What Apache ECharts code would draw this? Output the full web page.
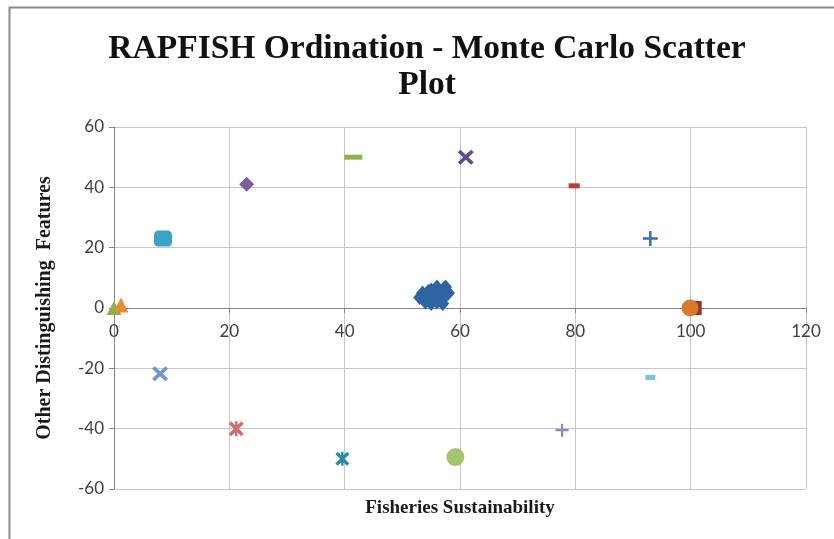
<!DOCTYPE html>
<html>
<head>
<meta charset="utf-8">
<script src="https://cdn.jsdelivr.net/npm/echarts@6/dist/echarts.min.js"></script>
<style>
  html, body { margin: 0; padding: 0; background: #fff; }
  #main { width: 834px; height: 539px; }
</style>
</head>
<body>
<div id="main"></div>
<script>
// points, [x, y]
var clusterPts = [[54,4],[55,3],[56,5],[57,6],[55,6],[54,2],[56,2],[57,3],[58,5],[57.5,7],
                  [55.5,4],[53.5,5],[56.5,4],[55,1.5],[54.5,5.5],[56,7],[53,3.5],[57,1.5]];
var purpleDiamond = [[23, 41]];
var greenDash = [[41.5, 50]];
var purpleX = [[61, 50]];
var redDash = [[79.8, 40.5]];
var bluePlus = [[93, 23]];
var tealSquare = [[8.5, 23]];
var greenTri = [[0, 0]];
var orangeTri = [[1.2, 1]];
var redSquare = [[100.7, 0]];
var orangeCircle = [[99.9, 0]];
var lightBlueDash = [[93, -23]];
var blueX = [[8, -21.8]];
var redStar = [[21.2, -40]];
var tealStar = [[39.6, -50]];
var greenCircle = [[59.2, -49.4]];
var purplePlus = [[77.7, -40.5]];

var xTicks = [0, 20, 40, 60, 80, 100, 120];
var yTicks = [-60, -40, -20, 0, 20, 40, 60];

var X_PATH = 'path://M2,0 L6,4 L10,0 L12,2 L8,6 L12,10 L10,12 L6,8 L2,12 L0,10 L4,6 L0,2 Z';
var PLUS_PATH = 'path://M5,0 H7 V5 H12 V7 H7 V12 H5 V7 H0 V5 H5 Z';
var STAR_PATH = 'path://M2,0 L6,4 L10,0 L12,2 L8,6 L12,10 L10,12 L6,8 L2,12 L0,10 L4,6 L0,2 Z M5,0 H7 V12 H5 Z';

function s(data, symbol, size, color) {
    return { type: 'scatter', data: data, symbol: symbol, symbolSize: size,
             itemStyle: { color: color, opacity: 1 }, z: 3 };
}

var labelStyle = { fontFamily: 'Lato', fontSize: 17, color: '#404040' };

var chart = echarts.init(document.getElementById('main'));
var option = {
    animation: false,
    backgroundColor: '#fff',
    graphic: [{
        type: 'rect',
        shape: { x: 9.5, y: 7.5, width: 900, height: 600 },
        style: { fill: 'none', stroke: '#8a8a8a', lineWidth: 2 }
    }, {
        // title, centred a little right of the canvas centre like the original
        type: 'text',
        x: 427, y: 31,
        style: {
            text: 'RAPFISH Ordination - Monte Carlo Scatter\nPlot',
            align: 'center',
            font: 'bold 33.5px "Liberation Serif"',
            lineHeight: 36,
            fill: '#111'
        }
    }],
    grid: { left: 114, right: 28, top: 127, bottom: 50, outerBoundsMode: 'none', containLabel: false },
    xAxis: [{
        type: 'value', min: 0, max: 120, interval: 20,
        name: 'Fisheries Sustainability',
        nameLocation: 'middle', nameGap: 10,
        nameTextStyle: { fontFamily: 'Liberation Serif', fontWeight: 'bold', fontSize: 19, color: '#1a1a1a' },
        axisLine: { onZero: true, lineStyle: { color: '#868686' } },
        axisTick: { show: false },
        axisLabel: { show: false },
        splitLine: { lineStyle: { color: '#c4c6d2', width: 1 } }
    }, {
        // tick labels sit on the y = 0 line, as in the reference
        type: 'value', min: 0, max: 120, interval: 20,
        position: 'bottom', offset: -181,
        axisLine: { show: false, onZero: false },
        axisTick: { show: true, length: 5, lineStyle: { color: '#868686' } },
        axisLabel: Object.assign({ margin: 15,
                     formatter: function (v) { return xTicks.indexOf(v) >= 0 ? String(v) : ''; } }, labelStyle),
        splitLine: { show: false }
    }],
    yAxis: {
        type: 'value', min: -60, max: 60, interval: 20,
        name: 'Other Distinguishing  Features',
        nameLocation: 'middle', nameGap: 59,
        nameTextStyle: { fontFamily: 'Liberation Serif', fontWeight: 'bold', fontSize: 20, color: '#1a1a1a' },
        axisLine: { onZero: true, lineStyle: { color: '#868686' } },
        axisTick: { show: true, length: 5, lineStyle: { color: '#868686' } },
        axisLabel: Object.assign({ margin: 10,
                     formatter: function (v) { return yTicks.indexOf(v) >= 0 ? String(v) : ''; } }, labelStyle),
        splitLine: { lineStyle: { color: '#c4c6d2', width: 1 } }
    },
    series: [
        s(clusterPts, 'diamond', [13, 15], '#2f64a3'),
        s(purpleDiamond, 'diamond', [15, 15], '#7a5fa0'),
        s(greenDash, 'rect', [18, 5], '#8db446'),
        s(purpleX, X_PATH, [16, 15], '#5f4a8b'),
        s(redDash, 'rect', [11, 5], '#c0392f'),
        s(bluePlus, PLUS_PATH, [15, 15], '#3a6eb5'),
        s(tealSquare, 'roundRect', [18, 16], '#3aa3c2'),
        s(greenTri, 'triangle', [15, 14], '#89b34a'),
        s(orangeTri, 'triangle', [15, 15], '#ec8a33'),
        s(redSquare, 'rect', [14, 14], '#a32f2c'),
        s(orangeCircle, 'circle', [17, 17], '#d67b29'),
        s(lightBlueDash, 'rect', [10, 5], '#7cc5de'),
        s(blueX, X_PATH, [16, 15], '#6f97cb'),
        s(redStar, STAR_PATH, [15, 15], '#d06f6b'),
        s(tealStar, STAR_PATH, [14, 14], '#2b8aa3'),
        s(greenCircle, 'circle', [18, 18], '#a6c470'),
        s(purplePlus, PLUS_PATH, [13, 13], '#9484bd')
    ]
};
chart.setOption(option);
</script>
</body>
</html>
